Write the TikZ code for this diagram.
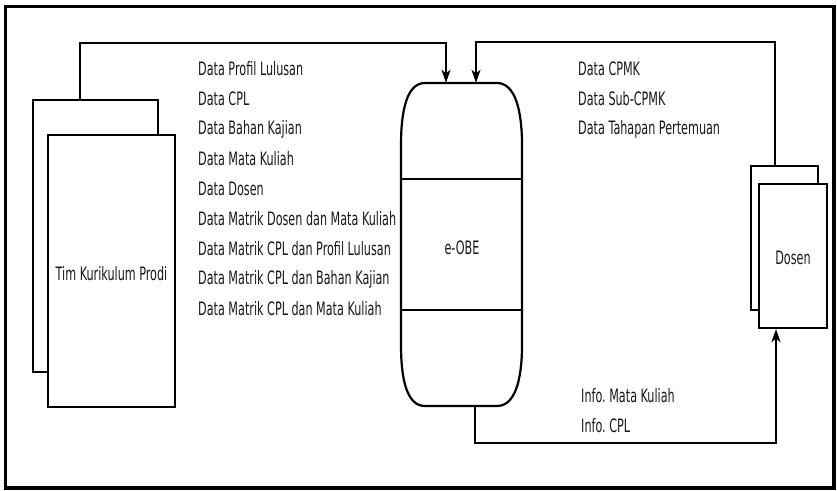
\documentclass[tikz,border=0pt]{standalone}
\usepackage{fontspec}
\usepackage{graphicx}
\setmainfont{DejaVu Sans}
\frenchspacing
\usetikzlibrary{arrows.meta}
\newcommand{\tx}[1]{\scalebox{1}[1.65]{#1}}
\tikzset{
  ln/.style={line width=2.2pt, draw=black},
  box/.style={ln, fill=white, rectangle, inner sep=0pt},
  flow/.style={line width=2pt, -{Stealth[length=13pt,width=9pt,inset=3.5pt]}},
  lbl/.style={anchor=west, inner sep=0pt, text=black!90, font=\fontsize{11.2}{13}\selectfont},
  clbl/.style={inner sep=0pt, text=black!90, font=\fontsize{11.2}{13}\selectfont},
}
\begin{document}
\begin{tikzpicture}[x=1pt,y=-1pt]
\useasboundingbox (0,0) rectangle (837,490);
\fill[white] (0,0) rectangle (837,490);
\draw[line width=3.5pt] (5.5,6.5) rectangle (834,488);

% Tim Kurikulum Prodi
\node[box, minimum width=125pt, minimum height=272pt] (timback) at (95.5,236) {};
\node[box, minimum width=127pt, minimum height=272pt] (timfront) at (111.5,271) {};
\node[clbl] (timlbl) at (111.5,274) {\tx{Tim Kurikulum Prodi}};

% Dosen
\node[box, minimum width=67pt, minimum height=144pt] (dosback) at (784.5,238) {};
\node[box, minimum width=68pt, minimum height=144pt] (dosfront) at (793,256) {};
\node[clbl] (doslbl) at (793,258) {\tx{Dosen}};

% e-OBE store
\node[minimum width=121pt, minimum height=323pt, inner sep=0pt] (eobe) at (461.5,244.5) {};
\draw[ln] (425,83) -- (497,83) .. controls (515,83) and (522,110) .. (522,145)
  -- (522,345) .. controls (522,380) and (515,406) .. (497,406)
  -- (425,406) .. controls (407,406) and (401,380) .. (401,345)
  -- (401,145) .. controls (401,110) and (407,83) .. (425,83) -- cycle;
\draw[ln] (401,179) -- (522,179);
\draw[ln] (401,310) -- (522,310);
\node[clbl] (eobelbl) at (462,248) {\tx{e-OBE}};

% connectors
\draw[flow] ([xshift=-15.5pt]timback.north) -- ++(0,-56) -| ([xshift=-15.5pt]eobe.north);
\draw[flow] ([xshift=-9.5pt]dosback.north) -- ++(0,-123) -| ([xshift=14.5pt]eobe.north);
\draw[flow] ([xshift=13.5pt]eobe.south) -- ++(0,37) -| ([xshift=-17pt]dosfront.south);

% labels left
\node[lbl] (l1) at (198,69) {\tx{Data Profil Lulusan}};
\node[lbl] (l2) at (198,99) {\tx{Data CPL}};
\node[lbl] (l3) at (198,129) {\tx{Data Bahan Kajian}};
\node[lbl] (l4) at (198,159) {\tx{Data Mata Kuliah}};
\node[lbl] (l5) at (198,189) {\tx{Data Dosen}};
\node[lbl] (l6) at (198,219) {\tx{Data Matrik Dosen dan Mata Kuliah}};
\node[lbl] (l7) at (198,249) {\tx{Data Matrik CPL dan Profil Lulusan}};
\node[lbl] (l8) at (198,279) {\tx{Data Matrik CPL dan Bahan Kajian}};
\node[lbl] (l9) at (198,309) {\tx{Data Matrik CPL dan Mata Kuliah}};

% labels right
\node[lbl] (r1) at (578,69) {\tx{Data CPMK}};
\node[lbl] (r2) at (578,99) {\tx{Data Sub-CPMK}};
\node[lbl] (r3) at (578,129) {\tx{Data Tahapan Pertemuan}};
\node[lbl] (i1) at (581,396) {\tx{Info. Mata Kuliah}};
\node[lbl] (i2) at (581,426) {\tx{Info. CPL}};
\end{tikzpicture}
\end{document}
